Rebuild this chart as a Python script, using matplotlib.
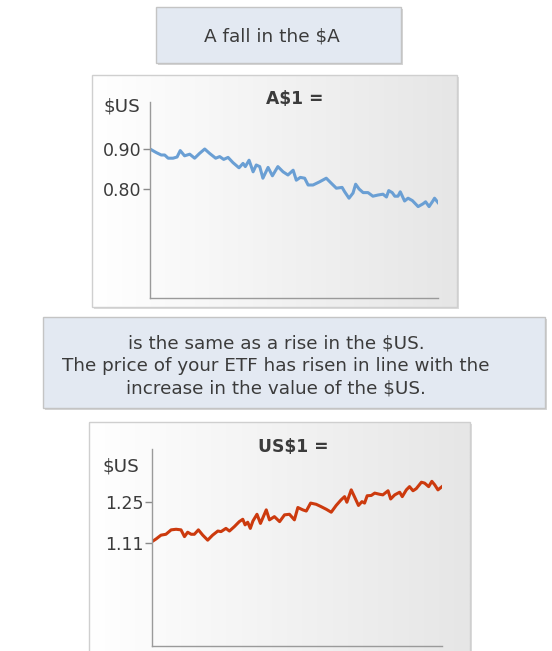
import numpy as np
import matplotlib
matplotlib.use("Agg")
import matplotlib.pyplot as plt
from matplotlib.patches import Rectangle
from matplotlib.colors import LinearSegmentedColormap

plt.rcParams['font.family'] = ['DejaVu Sans']

# A$1 in $US (time scaled 0..100)
aud_t = [0, 2.2, 3.9, 5.1, 6.3, 8.0, 9.4, 10.5, 12.0, 13.8,
         15.5, 17.2, 19.0, 20.7, 22.8, 24.2, 25.6, 27.1, 28.8, 30.9,
         32.3, 33.1, 34.4, 35.8, 36.9, 38.1, 39.2, 41.0, 42.5, 44.4,
         46.2, 47.9, 49.7, 50.8, 52.2, 53.7, 54.9, 56.6, 58.9, 61.2,
         63.0, 64.7, 66.7, 67.6, 69.1, 70.5, 71.4, 72.6, 74.0, 75.7,
         77.4, 79.2, 80.9, 82.1, 82.9, 84.1, 85.0, 86.1, 86.9, 88.4,
         89.6, 91.1, 93.1, 94.8, 95.7, 96.9, 98.3, 98.8, 100]
aud_usd = [0.900, 0.891, 0.885, 0.885, 0.877, 0.877, 0.880, 0.896, 0.883, 0.887,
           0.877, 0.889, 0.900, 0.889, 0.877, 0.881, 0.874, 0.879, 0.866, 0.853,
           0.864, 0.856, 0.872, 0.843, 0.860, 0.856, 0.827, 0.854, 0.833, 0.856,
           0.843, 0.835, 0.847, 0.822, 0.829, 0.827, 0.810, 0.810, 0.818, 0.827,
           0.814, 0.802, 0.804, 0.793, 0.777, 0.790, 0.812, 0.800, 0.791, 0.791,
           0.782, 0.785, 0.787, 0.780, 0.796, 0.791, 0.782, 0.782, 0.793, 0.770,
           0.777, 0.771, 0.756, 0.763, 0.768, 0.756, 0.771, 0.777, 0.766]

# US$1 in $A
usd_t = [0, 1.4, 3.1, 4.8, 6.6, 8.3, 10.0, 11.2, 12.3, 13.5,
         14.6, 16.0, 17.5, 19.2, 20.9, 22.7, 23.8, 25.5, 26.7, 28.4,
         30.1, 31.3, 32.1, 33.0, 33.9, 34.8, 36.2, 37.4, 39.4, 40.5,
         42.2, 44.0, 45.7, 47.4, 49.1, 50.3, 52.0, 53.2, 54.7, 56.6,
         58.3, 60.1, 61.8, 63.5, 65.2, 66.4, 67.2, 68.7, 69.8, 71.2,
         72.4, 73.3, 74.2, 75.6, 76.8, 78.5, 79.6, 81.4, 82.3, 83.7,
         85.4, 86.3, 87.7, 88.8, 90.0, 91.1, 92.9, 94.0, 95.4, 96.5,
         97.5, 98.6, 100]
usd_aud = [1.116, 1.125, 1.138, 1.141, 1.156, 1.158, 1.156, 1.133, 1.148, 1.141,
           1.141, 1.156, 1.138, 1.121, 1.138, 1.152, 1.150, 1.161, 1.152, 1.167,
           1.184, 1.192, 1.173, 1.182, 1.161, 1.186, 1.209, 1.178, 1.224, 1.190,
           1.201, 1.184, 1.207, 1.209, 1.190, 1.232, 1.224, 1.220, 1.247, 1.243,
           1.235, 1.226, 1.216, 1.239, 1.258, 1.269, 1.250, 1.292, 1.269, 1.239,
           1.252, 1.247, 1.272, 1.273, 1.281, 1.277, 1.275, 1.289, 1.261, 1.275,
           1.284, 1.269, 1.292, 1.303, 1.289, 1.296, 1.318, 1.315, 1.303, 1.321,
           1.309, 1.292, 1.303]

W, H = 552, 651
TXT = '#3b3b3b'
fig = plt.figure(figsize=(W / 100, H / 100), dpi=100)

# page layer in pixel coordinates
bg = fig.add_axes([0, 0, 1, 1])
bg.axis('off')

grad = LinearSegmentedColormap.from_list('g', ['#ffffff', '#e6e6e6'])


def note_box(x0, y0, x1, y1):
    bg.add_patch(Rectangle((x0 + 2, y0 + 2), x1 - x0, y1 - y0, fc='#d6d6d6', ec='none', zorder=1))
    bg.add_patch(Rectangle((x0, y0), x1 - x0, y1 - y0, fc='#e3e9f2', ec='#c4c4c4', lw=1, zorder=2))


def panel_box(x0, y0, x1, y1):
    bg.add_patch(Rectangle((x0 + 2, y0 + 2), x1 - x0, y1 - y0, fc='#dcdcdc', ec='none', zorder=1))
    bg.imshow(np.linspace(0, 1, 256)[None, :], cmap=grad, aspect='auto',
              extent=(x0, x1, y1, y0), zorder=2)
    bg.add_patch(Rectangle((x0, y0), x1 - x0, y1 - y0, fc='none', ec='#cfcfcf', lw=1, zorder=3))


note_box(156, 7, 401, 63)
bg.text(272, 36, 'A fall in the $A', ha='center', va='center', fontsize=13.3, color=TXT, zorder=5)

panel_box(92, 75, 457, 307)
note_box(43, 317, 545, 408)
bg.text(276, 366, 'is the same as a rise in the $US.\n'
        'The price of your ETF has risen in line with the\n'
        'increase in the value of the $US.',
        ha='center', va='center', fontsize=13.2, color=TXT, linespacing=1.3, zorder=5)
panel_box(89, 422, 470, 700)
bg.set_xlim(0, W)
bg.set_ylim(H, 0)


def line_panel(rect, t, v, ylim, ticks, labels, color, title, title_xy, unit_xy):
    ax = fig.add_axes([rect[0] / W, 1 - rect[3] / H, (rect[2] - rect[0]) / W, (rect[3] - rect[1]) / H])
    ax.set_facecolor('none')
    ax.plot(t, v, color=color, lw=2.2, solid_joinstyle='round')
    ax.set_xlim(0, 100)
    ax.set_ylim(*ylim)
    ax.set_xticks([])
    ax.set_yticks(ticks)
    ax.set_yticklabels(labels)
    ax.tick_params(axis='y', length=5, width=1, color='#8a8a8a', labelsize=12.5,
                   labelcolor=TXT, pad=1)
    for s in ['top', 'right']:
        ax.spines[s].set_visible(False)
    for s in ['left', 'bottom']:
        ax.spines[s].set_color('#9a9a9a')
        ax.spines[s].set_linewidth(1)
    bg.text(*title_xy, title, ha='center', va='center', fontsize=12.3,
            fontweight='bold', color=TXT, zorder=5)
    bg.text(*unit_xy, '$US', ha='right', va='center', fontsize=13.2, color=TXT, zorder=5)
    return ax


line_panel((150, 102, 438, 298), aud_t, aud_usd, (0.5275, 1.0175), [0.80, 0.90],
           ['0.80', '0.90'], '#6a9fd4', 'A$1 =', (295, 99), (140, 107))
line_panel((152, 449, 442, 646), usd_t, usd_aud, (0.761, 1.431), [1.11, 1.25],
           ['1.11', '1.25'], '#cc3a0e', 'US$1 =', (293, 447), (139, 466))

fig.savefig('out.png', dpi=100)
